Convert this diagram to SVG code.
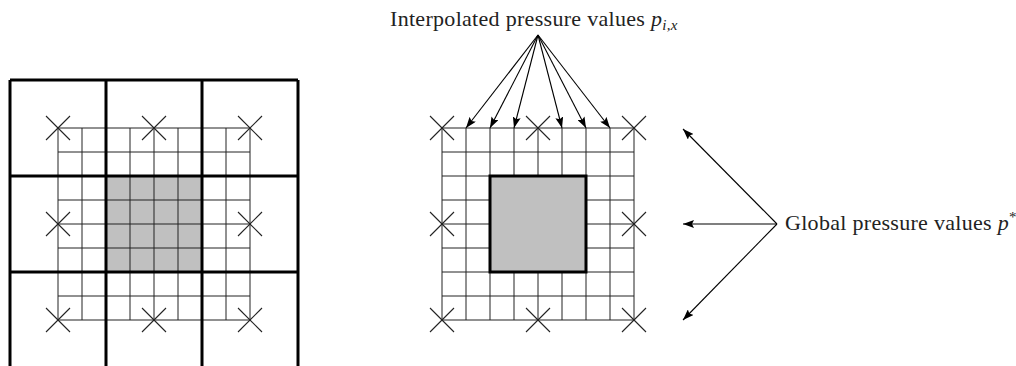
<svg xmlns="http://www.w3.org/2000/svg" width="1016" height="366" viewBox="0 0 1016 366">
<style>
.thin{stroke:#222;stroke-width:1;fill:none}
.thick{stroke:#000;stroke-width:3;fill:none}
.x{stroke:#222;stroke-width:1.1}
.conn{stroke:#000;stroke-width:1.1;fill:none;marker-end:url(#ah)}
.lbl{font-family:"Liberation Serif","DejaVu Serif",serif;font-size:22px;fill:#222;letter-spacing:0.3px}
.m{font-style:italic}
</style>
<defs>
<marker id="ah" markerUnits="userSpaceOnUse" markerWidth="12" markerHeight="8" viewBox="0 0 12 8" refX="11" refY="4" orient="auto">
<path d="M0,0 L11,4 L0,8 L2,4 z" fill="#000"/>
</marker>
<g id="xmark"><line class="x" x1="-12" y1="-12" x2="12" y2="12"/><line class="x" x1="-12" y1="12" x2="12" y2="-12"/></g>
</defs>
<rect width="1016" height="366" fill="#fff"/>

<g id="left-grid">
<rect x="106" y="176" width="96" height="96" fill="#c0c0c0"/>
<path class="thin" d="M58,128V320M82,128V320M106,128V320M130,128V320M154,128V320M178,128V320M202,128V320M226,128V320M250,128V320M58,128H250M58,152H250M58,176H250M58,200H250M58,224H250M58,248H250M58,272H250M58,296H250M58,320H250"/>
<path class="thick" d="M10,80V368M106,80V368M202,80V368M298,80V368M10,80H298M10,176H298M10,272H298"/>
<use href="#xmark" x="58" y="128"/><use href="#xmark" x="154" y="128"/><use href="#xmark" x="250" y="128"/>
<use href="#xmark" x="58" y="224"/><use href="#xmark" x="250" y="224"/>
<use href="#xmark" x="58" y="320"/><use href="#xmark" x="154" y="320"/><use href="#xmark" x="250" y="320"/>
</g>

<g id="right-grid">
<path class="thin" d="M442,128V320M466,128V320M490,128V320M514,128V320M538,128V320M562,128V320M586,128V320M610,128V320M634,128V320M442,128H634M442,152H634M442,176H634M442,200H634M442,224H634M442,248H634M442,272H634M442,296H634M442,320H634"/>
<rect x="490" y="176" width="96" height="96" fill="#c0c0c0" stroke="#000" stroke-width="3"/>
<use href="#xmark" x="442" y="128"/><use href="#xmark" x="538" y="128"/><use href="#xmark" x="634" y="128"/>
<use href="#xmark" x="442" y="224"/><use href="#xmark" x="634" y="224"/>
<use href="#xmark" x="442" y="320"/><use href="#xmark" x="538" y="320"/><use href="#xmark" x="634" y="320"/>
</g>

<g id="label-interpolated">
<text class="lbl" x="390" y="26">Interpolated pressure values <tspan class="m">p</tspan><tspan class="m" font-size="15" dy="4">i,x</tspan></text>
</g>

<g id="label-global">
<text class="lbl" x="785" y="230">Global pressure values <tspan class="m">p</tspan><tspan font-size="15" dy="-8">*</tspan></text>
</g>

<g id="connectors">
<line class="conn" x1="538" y1="35" x2="466" y2="128"/>
<line class="conn" x1="538" y1="35" x2="490" y2="128"/>
<line class="conn" x1="538" y1="35" x2="514" y2="128"/>
<line class="conn" x1="538" y1="35" x2="562" y2="128"/>
<line class="conn" x1="538" y1="35" x2="586" y2="128"/>
<line class="conn" x1="538" y1="35" x2="610" y2="128"/>
<line class="conn" x1="777" y1="224" x2="683" y2="129"/>
<line class="conn" x1="777" y1="224" x2="683" y2="224"/>
<line class="conn" x1="777" y1="224" x2="683" y2="320"/>
</g>
</svg>
